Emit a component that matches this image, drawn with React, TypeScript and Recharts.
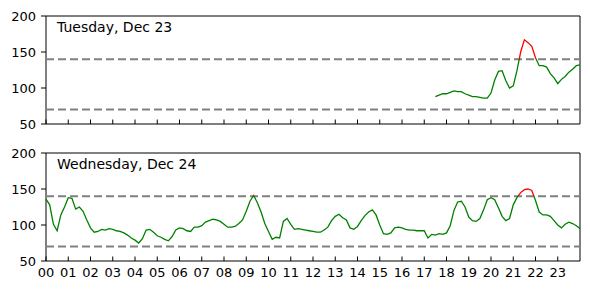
import React from 'react';
import { LineChart, Line, XAxis, YAxis, ReferenceLine, ReferenceArea } from 'recharts';

// readings every 10 minutes
const stepMinutes = 10;

const tuesdayTitle = 'Tuesday, Dec 23';
const tuesdayStartHour = 17.5;
const tuesdayValues = [
  88, 90, 92, 92, 94, 96, 95, 95, 92, 90, 88, 88, 87, 86, 86, 93, 111, 123, 124, 110,
  100, 103, 124, 150, 167, 163, 158, 142, 131, 131, 129, 120, 114, 106, 112, 116, 122, 126,
  131, 132,
];

const wednesdayTitle = 'Wednesday, Dec 24';
const wednesdayStartHour = 0;
const wednesdayValues = [
  136, 128, 101, 92, 114, 125, 138, 137, 122, 125, 119, 107, 96, 90, 91, 94, 93, 95, 94, 92,
  91, 89, 86, 82, 79, 75, 81, 93, 94, 90, 85, 83, 80, 78, 84, 93, 96, 95, 92, 91,
  97, 97, 99, 104, 106, 108, 107, 105, 101, 97, 97, 98, 102, 107, 119, 133, 141, 131, 118, 102,
  91, 80, 83, 82, 105, 109, 101, 94, 95, 94, 93, 92, 91, 90, 90, 93, 97, 106, 112, 115,
  110, 107, 96, 94, 98, 106, 113, 118, 121, 114, 100, 88, 87, 89, 96, 97, 96, 94, 93, 93,
  92, 92, 92, 82, 87, 86, 88, 87, 89, 99, 120, 132, 133, 125, 111, 106, 105, 109, 121, 135,
  138, 135, 124, 112, 106, 109, 128, 138, 145, 149, 150, 148, 134, 118, 114, 114, 112, 106, 100, 96,
  101, 104, 102, 99, 95,
];

const hourTicks = [0, 1, 2, 3, 4, 5, 6, 7, 8, 9, 10, 11, 12, 13, 14, 15, 16, 17, 18, 19, 20, 21, 22, 23];
const valueTicks = [50, 100, 150, 200];
const targetLow = 70;
const targetHigh = 140;

const toRows = (start: number, values: number[]) =>
  values.map((value, i) => ({ hour: start + (i * stepMinutes) / 60, value }));

function HourTick(props: any) {
  const { x, y, payload, showLabel } = props;
  return (
    <g>
      <line x1={x} x2={x} y1={y - 4.5} y2={y} stroke="#000" strokeWidth={1} />
      {showLabel && (
        <text x={x} y={y + 15.7} textAnchor="middle" fontSize={13} fill="#000">
          {String(payload.value).padStart(2, '0')}
        </text>
      )}
    </g>
  );
}

function DayPanel({ id, title, start, values, height, axisHeight, showLabels }: any) {
  const rows = toRows(start, values);
  const max = Math.max(...values);
  const min = Math.min(...values);
  const split = max > targetHigh ? (max - targetHigh) / (max - min) : 0;

  return (
    <div style={{ position: 'relative', width: 590, height }}>
      <LineChart width={590} height={height} data={rows} margin={{ top: 16, right: 10, bottom: 0, left: 0 }}>
        <defs>
          <linearGradient id={id} x1="0" y1="0" x2="0" y2="1">
            <stop offset={0} stopColor="#ff0000" />
            <stop offset={split} stopColor="#ff0000" />
            <stop offset={split} stopColor="#008000" />
            <stop offset={1} stopColor="#008000" />
          </linearGradient>
        </defs>
        <XAxis
          dataKey="hour"
          type="number"
          domain={[0, 24]}
          ticks={hourTicks}
          height={axisHeight}
          axisLine={false}
          tickLine={false}
          tickSize={0}
          tickMargin={0}
          interval={0}
          tick={(p: any) => <HourTick {...p} showLabel={showLabels} />}
        />
        <YAxis
          type="number"
          domain={[50, 200]}
          ticks={valueTicks}
          width={46}
          axisLine={false}
          tickSize={5}
          tickMargin={5}
          tickLine={{ stroke: '#000' }}
          tick={{ fontSize: 13, fill: '#000' }}
          interval={0}
        />
        <ReferenceLine y={targetLow} stroke="#808080" strokeWidth={2} strokeDasharray="8 4" />
        <ReferenceLine y={targetHigh} stroke="#808080" strokeWidth={2} strokeDasharray="8 4" />
        <Line
          dataKey="value"
          type="linear"
          stroke={`url(#${id})`}
          strokeWidth={1.3}
          dot={false}
          activeDot={false}
          isAnimationActive={false}
        />
        <ReferenceArea x1={0} x2={24} y1={50} y2={200} fill="none" stroke="#000" strokeWidth={1} />
      </LineChart>
      <svg width={590} height={40} style={{ position: 'absolute', left: 0, top: 0, pointerEvents: 'none' }}>
        <text x={57} y={32.3} fontSize={14} fill="#000">
          {title}
        </text>
      </svg>
    </div>
  );
}

export default function App() {
  return (
    <div
      style={{
        position: 'absolute',
        left: 0,
        top: 0,
        width: 590,
        height: 290,
        background: '#fff',
        fontFamily: '"DejaVu Sans", sans-serif',
      }}
    >
      <div style={{ position: 'absolute', left: 0, top: 0 }}>
        <DayPanel
          id="tueGrad"
          title={tuesdayTitle}
          start={tuesdayStartHour}
          values={tuesdayValues}
          height={137}
          axisHeight={13}
          showLabels={false}
        />
      </div>
      <div style={{ position: 'absolute', left: 0, top: 137 }}>
        <DayPanel
          id="wedGrad"
          title={wednesdayTitle}
          start={wednesdayStartHour}
          values={wednesdayValues}
          height={153}
          axisHeight={29}
          showLabels
        />
      </div>
    </div>
  );
}
